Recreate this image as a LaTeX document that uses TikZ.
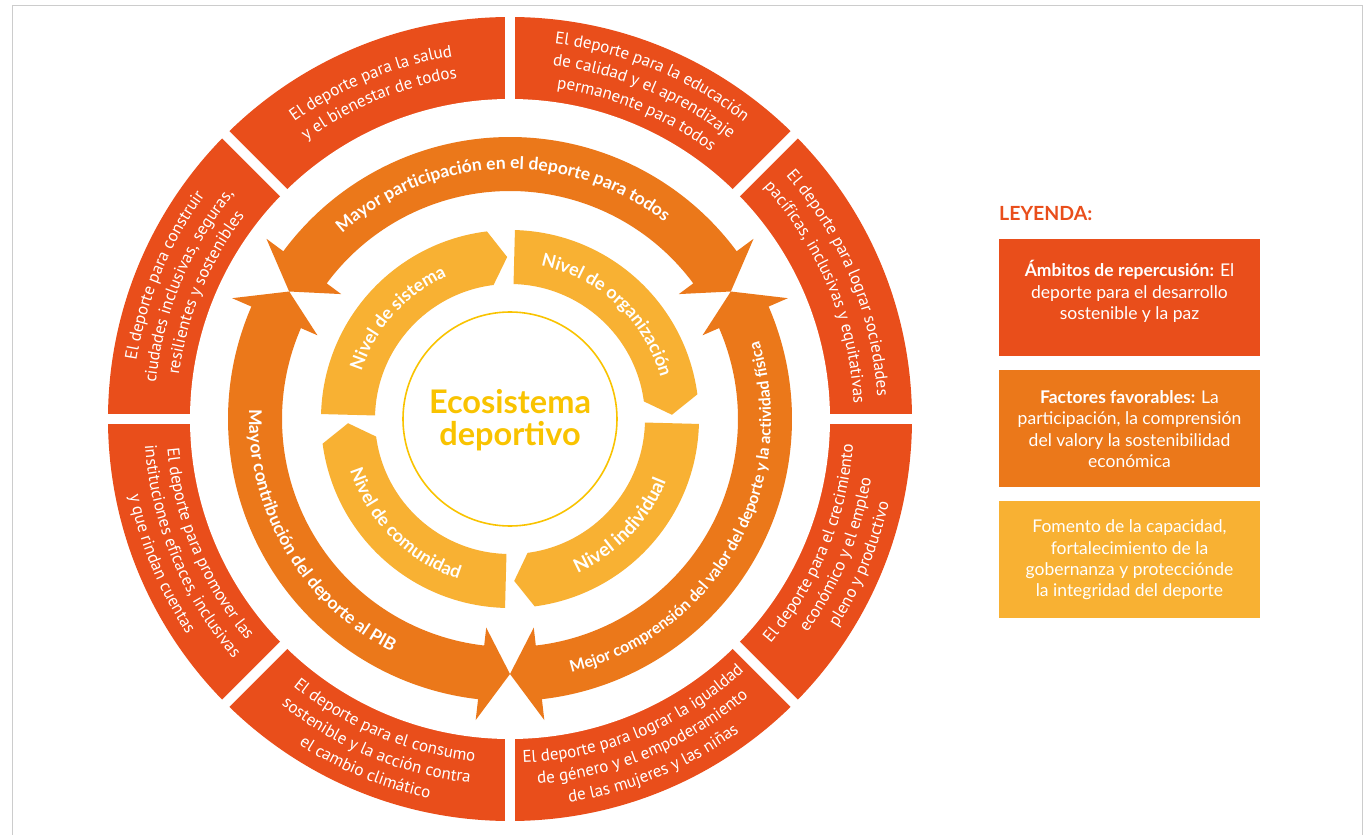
\documentclass[tikz,border=0pt]{standalone}
\usepackage{fontspec}
\usetikzlibrary{decorations.text}
\setmainfont{Lato}
\newfontfamily\segf{PT Sans}
\newfontfamily\latof{Lato}
\definecolor{cred}{HTML}{E94E1B}
\definecolor{corange}{HTML}{EB781A}
\definecolor{cyellow}{HTML}{F8B133}
\definecolor{cgold}{HTML}{F9C300}
\definecolor{cframe}{HTML}{CCCCCC}
\newcommand{\fseg}{\color{white}\segf\fontsize{17}{17}\selectfont}
\newcommand{\forg}{\color{white}\latof\bfseries\fontsize{17.5}{17.5}\selectfont}
\newcommand{\forgs}{\color{white}\latof\bfseries\fontsize{16}{16}\selectfont}
\newcommand{\fyel}{\color{white}\latof\bfseries\fontsize{18}{18}\selectfont}
\newcommand{\fyelb}{\color{white}\latof\bfseries\fontsize{19}{19}\selectfont}
% curved text: radius, start angle, end angle, format, text
\newcommand{\ctext}[5]{\path[decorate, decoration={text along path, text align=center, text={|#4|#5}}] (#2:#1pt) arc[start angle=#2, end angle=#3, radius=#1pt];}
% double headed orange arrow, tips at #1 < #2 (counterclockwise)
\newcommand{\dblarrow}[2]{%
 \fill[corange] (#1:255pt) -- ({#1+6.5}:303pt) -- ({#1+6.5}:282pt)
   arc[start angle={#1+6.5}, end angle={#2-6.5}, radius=282pt]
   -- ({#2-6.5}:303pt) -- (#2:255pt) -- ({#2-6.5}:210pt) -- ({#2-6.5}:228pt)
   arc[start angle={#2-6.5}, end angle={#1+6.5}, radius=228pt]
   -- ({#1+6.5}:210pt) -- cycle;}
% yellow arrow, clockwise from #1 (flat start) to tip at #2
\newcommand{\ylarrow}[2]{%
 \fill[cyellow] (#1:189pt) arc[start angle=#1, end angle={#2+6}, radius=189pt]
   -- (#2:162pt) -- ({#2+6}:135pt)
   arc[start angle={#2+6}, end angle=#1, radius=135pt] -- cycle;}
\begin{document}
\begin{tikzpicture}[x=1pt,y=1pt,
  legtext/.style={text=white, font=\latof\fontsize{17.5}{21.3}\selectfont, align=center, inner sep=0pt},
  legbox/.style={fill=#1, minimum width=261pt, minimum height=117pt, anchor=north west, inner sep=0pt}]
\useasboundingbox (-510,-416) rectangle (855,419);
% frame
\draw[cframe, line width=1pt] (-497,-416) -- (-497,413) -- (852,413) -- (852,-416);
% outer ring
\fill[cred] (0,0) circle[radius=402pt];
\fill[white] (0,0) circle[radius=320pt];
\foreach \a in {0,45,...,315} \draw[white, line width=10pt] (\a:300pt) -- (\a:412pt);
% outer texts
\ctext{367}{138.5}{86.5}{\fseg}{El deporte para la salud}
\ctext{345}{138.5}{86.5}{\fseg}{y el bienestar de todos}
\ctext{378}{93.5}{41.5}{\fseg}{El deporte para la educación}
\ctext{356}{93.5}{41.5}{\fseg}{de calidad y el aprendizaje}
\ctext{334}{93.5}{41.5}{\fseg}{permanente para todos}
\ctext{368}{48.5}{-3.5}{\fseg}{El deporte para lograr sociedades}
\ctext{344}{48.5}{-3.5}{\fseg}{pacíficas, inclusivas y equitativas}
\ctext{344}{311.5}{363.5}{\fseg}{El deporte para el crecimiento}
\ctext{366}{311.5}{363.5}{\fseg}{económico y el empleo}
\ctext{388}{311.5}{363.5}{\fseg}{pleno y productivo}
\ctext{344}{266.5}{318.5}{\fseg}{El deporte para lograr la igualdad}
\ctext{366}{266.5}{318.5}{\fseg}{de género y el empoderamiento}
\ctext{388}{266.5}{318.5}{\fseg}{de las mujeres y las niñas}
\ctext{344}{221.5}{273.5}{\fseg}{El deporte para el consumo}
\ctext{366}{221.5}{273.5}{\fseg}{sostenible y la acción contra}
\ctext{388}{221.5}{273.5}{\fseg}{el cambio climático}
\ctext{344}{176.5}{228.5}{\fseg}{El deporte para promover las}
\ctext{366}{176.5}{228.5}{\fseg}{instituciones eficaces, inclusivas}
\ctext{388}{176.5}{228.5}{\fseg}{y que rindan cuentas}
\ctext{378}{183.5}{131.5}{\fseg}{El deporte para construir}
\ctext{356}{183.5}{131.5}{\fseg}{ciudades inclusivas, seguras,}
\ctext{334}{183.5}{131.5}{\fseg}{resilientes y sostenibles}
% orange arrows
\dblarrow{30}{150}
\dblarrow{150}{270}
\dblarrow{-90}{30}
\ctext{250}{150}{34}{\forg}{Mayor participación en el deporte para todos}
\ctext{261}{160}{261}{\forg}{Mayor contribución del deporte al PIB}
\ctext{261}{-88}{29}{\forgs}{Mejor comprensión del valor del deporte y la actividad física}
% yellow arrows
\ylarrow{178.5}{91}
\ylarrow{88.5}{1.5}
\ylarrow{-1.5}{-88.5}
\ylarrow{268.5}{181.5}
\ctext{156}{175}{101}{\fyel}{Nivel de sistema}
\ctext{156}{86}{8}{\fyel}{Nivel de organización}
\ctext{168}{-88}{0}{\fyelb}{Nivel individual}
\ctext{168}{183}{267}{\fyel}{Nivel de comunidad}
% centre
\draw[cgold, line width=1.6pt] (0,0) circle[radius=107pt];
\node[text=cgold, font=\latof\bfseries\fontsize{32.5}{32}\selectfont, align=center, inner sep=0pt] (eco) at (0,-1) {Ecosistema\\deportivo};
% legend
\node[anchor=west, text=cred, font=\latof\bfseries\fontsize{19.5}{19.5}\selectfont, inner sep=0pt] (leg) at (489,205) {LEYENDA:};
\node[legbox=cred] (b1) at (489,180) {};
\node[legbox=corange] (b2) at (489,49) {};
\node[legbox=cyellow] (b3) at (489,-82) {};
\node[legtext] (t1) at (619.5,127.5) {\textbf{Ámbitos de repercusión:} El\\deporte para el desarrollo\\sostenible y la paz};
\node[legtext] (t2) at (619.5,-10) {\textbf{Factores favorables:} La\\participación, la comprensión\\del valory la sostenibilidad\\económica};
\node[legtext] (t3) at (619.5,-141) {Fomento de la capacidad,\\fortalecimiento de la\\gobernanza y protecciónde\\la integridad del deporte};
\end{tikzpicture}
\end{document}
